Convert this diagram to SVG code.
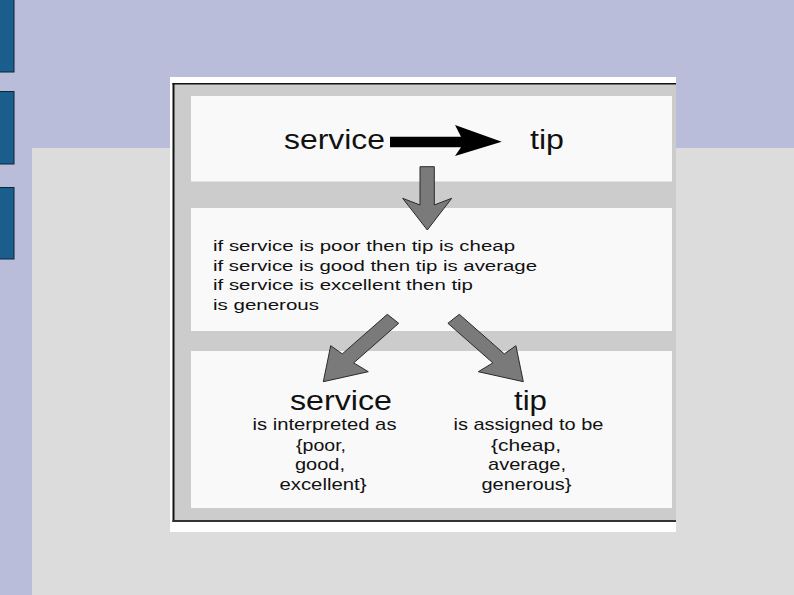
<svg xmlns="http://www.w3.org/2000/svg" width="794" height="595" viewBox="0 0 794 595">
  <style>
    .t { font-family: "Liberation Sans", Arial, sans-serif; fill: #111; }
    .big { font-size: 27px; }
    .mid { font-size: 17px; }
    .rule { font-size: 15.5px; }
    .panel { fill: #f9f9f9; }
    .garrow { fill: #7a7a7a; stroke: #2a2a2a; stroke-width: 1; stroke-linejoin: miter; }
    .bar { fill: #1a5e8e; stroke: #0c2338; stroke-width: 1; }
  </style>
  <defs>
    <polygon id="diag" points="387.3,314.3 398.7,323.3 353.7,362.9 368.3,371.7 323.3,381.7 330.7,345.7 342.3,353.9"/>
  </defs>

  <g id="background">
    <rect x="0" y="0" width="794" height="595" fill="#b9bdd9"/>
    <rect x="32" y="148" width="762" height="447" fill="#dcdcdc"/>
    <rect class="bar" x="-1" y="-1" width="15" height="73"/>
    <rect class="bar" x="-1" y="91.5" width="15" height="72.5"/>
    <rect class="bar" x="-1" y="187.5" width="15" height="71.5"/>
  </g>

  <g id="frame">
    <rect x="170" y="77" width="506" height="455" fill="#ffffff"/>
    <rect x="174" y="84" width="502" height="436.5" fill="#cccccc"/>
    <rect x="172.5" y="83" width="2" height="439" fill="#111"/>
    <rect x="172.5" y="83" width="503.5" height="1.5" fill="#111"/>
    <rect x="172.5" y="520" width="503.5" height="2" fill="#333"/>
  </g>

  <g id="node-input">
    <rect class="panel" x="191" y="96" width="481" height="85.5"/>
    <text class="t big" x="284" y="149" textLength="101" lengthAdjust="spacingAndGlyphs">service</text>
    <text class="t big" x="530" y="149" textLength="34" lengthAdjust="spacingAndGlyphs">tip</text>
  </g>

  <g id="node-rules">
    <rect class="panel" x="191" y="208" width="481" height="123"/>
    <text class="t rule" x="213" y="250.7" textLength="302" lengthAdjust="spacingAndGlyphs">if service is poor then tip is cheap</text>
    <text class="t rule" x="213" y="270.5" textLength="324" lengthAdjust="spacingAndGlyphs">if service is good then tip is average</text>
    <text class="t rule" x="213" y="290.3" textLength="260" lengthAdjust="spacingAndGlyphs">if service is excellent then tip</text>
    <text class="t rule" x="213" y="310" textLength="106" lengthAdjust="spacingAndGlyphs">is generous</text>
  </g>

  <g id="node-output">
    <rect class="panel" x="191" y="351" width="481" height="157"/>
  </g>

  <g id="node-service">
    <text class="t big" x="290" y="410" textLength="102" lengthAdjust="spacingAndGlyphs">service</text>
    <text class="t mid" x="252.5" y="430" textLength="144" lengthAdjust="spacingAndGlyphs">is interpreted as</text>
    <text class="t mid" x="296" y="450.5" textLength="50" lengthAdjust="spacingAndGlyphs">{poor,</text>
    <text class="t mid" x="295" y="470" textLength="50" lengthAdjust="spacingAndGlyphs">good,</text>
    <text class="t mid" x="279.5" y="489.5" textLength="87" lengthAdjust="spacingAndGlyphs">excellent}</text>
  </g>

  <g id="node-tip">
    <text class="t big" x="514" y="410" textLength="33" lengthAdjust="spacingAndGlyphs">tip</text>
    <text class="t mid" x="453.5" y="430" textLength="150" lengthAdjust="spacingAndGlyphs">is assigned to be</text>
    <text class="t mid" x="491" y="450.5" textLength="70" lengthAdjust="spacingAndGlyphs">{cheap,</text>
    <text class="t mid" x="488" y="470" textLength="78" lengthAdjust="spacingAndGlyphs">average,</text>
    <text class="t mid" x="481.5" y="489.5" textLength="90" lengthAdjust="spacingAndGlyphs">generous}</text>
  </g>

  <g id="connectors">
    <polygon fill="#000" points="390,136.7 461,136.7 455,125 501.7,141.7 455,156 461,147.3 390,147.3"/>
    <polygon class="garrow" points="420,166.7 434.3,166.7 434.3,205 451.7,198.3 427.3,230 402.7,198.3 420,205"/>
    <use href="#diag" class="garrow"/>
    <use href="#diag" class="garrow" transform="translate(846.6,0) scale(-1,1)"/>
  </g>
</svg>
